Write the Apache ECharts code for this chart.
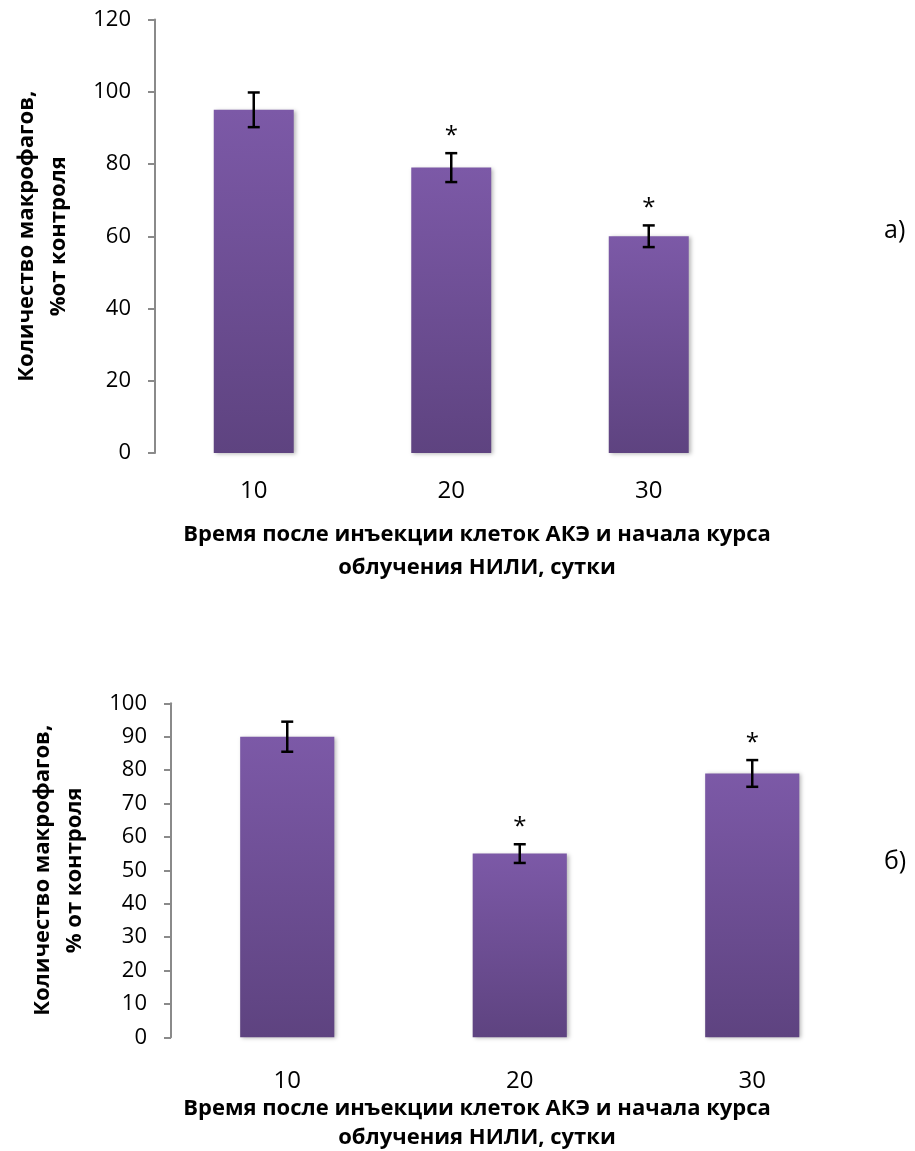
<!DOCTYPE html>
<html>
<head>
<meta charset="utf-8">
<script src="https://cdn.jsdelivr.net/npm/echarts@6/dist/echarts.min.js"></script>
<style>
  html, body { margin: 0; padding: 0; background: #fff; }
  #chart { width: 915px; height: 1151px; }
</style>
</head>
<body>
<div id="chart"></div>
<script>
// Days after tumour-cell injection and start of the irradiation course
const categories = ['10', '20', '30'];

// Panel а): macrophage count, % of control
const meansA = [95, 79, 60];
const errorsA = [4.8, 4, 3];
const significantA = [false, true, true];

// Panel б): macrophage count, % of control
const meansB = [90, 55, 79];
const errorsB = [4.5, 2.8, 4];
const significantB = [false, true, true];

// Value-axis ranges
const yRangeA = { min: 0, max: 120, interval: 20 };
const yRangeB = { min: 0, max: 100, interval: 10 };

const yTitleA = 'Количество макрофагов,\n%от контроля';
const yTitleB = 'Количество макрофагов,\n% от контроля';
const xTitleLine1 = 'Время после инъекции клеток АКЭ и начала курса';
const xTitleLine2 = 'облучения НИЛИ, сутки';

const FONT = '"Open Sans", "Noto Sans", sans-serif';

const barFill = {
  type: 'linear', x: 0, y: 0, x2: 0, y2: 1,
  colorStops: [
    { offset: 0, color: '#7C59A7' },
    { offset: 1, color: '#5E4380' }
  ]
};

function errorData(means, errors, sig) {
  return means.map((m, i) => [i, m - errors[i], m + errors[i], sig[i] ? 1 : 0]);
}

function renderErrorBar(params, api) {
  const lo = api.coord([api.value(0), api.value(1)]);
  const hi = api.coord([api.value(0), api.value(2)]);
  const cap = 6;
  const style = { stroke: '#000', lineWidth: 2.5 };
  const children = [
    { type: 'line', shape: { x1: hi[0], y1: hi[1], x2: lo[0], y2: lo[1] }, style },
    { type: 'line', shape: { x1: hi[0] - cap, y1: hi[1], x2: hi[0] + cap, y2: hi[1] }, style },
    { type: 'line', shape: { x1: lo[0] - cap, y1: lo[1], x2: lo[0] + cap, y2: lo[1] }, style }
  ];
  if (api.value(3)) {
    children.push({
      type: 'text',
      style: {
        text: '*', x: hi[0], y: hi[1] - 5,
        align: 'center', verticalAlign: 'bottom',
        font: '24px ' + FONT, fill: '#000'
      }
    });
  }
  return { type: 'group', children };
}

function valueAxis(gridIndex, range, title, titleSize) {
  return {
    type: 'value', gridIndex,
    min: range.min, max: range.max, interval: range.interval,
    axisLine: { show: true, lineStyle: { color: '#8A8A8A', width: 2 } },
    axisTick: { show: true, length: 7, lineStyle: { color: '#8A8A8A', width: 2 } },
    splitLine: { show: false },
    axisLabel: { fontFamily: FONT, fontSize: 22, color: '#000', margin: 24 },
    name: title,
    nameLocation: 'middle',
    nameRotate: 90,
    nameGap: 80,
    nameTextStyle: { fontFamily: FONT, fontSize: titleSize, fontWeight: 'bold', color: '#000', lineHeight: 32 }
  };
}

function categoryAxis(gridIndex, margin) {
  return {
    type: 'category', gridIndex, data: categories,
    axisLine: { show: false }, axisTick: { show: false },
    axisLabel: { fontFamily: FONT, fontSize: 24, color: '#000', margin }
  };
}

function titleLine(text, y) {
  return {
    type: 'text',
    style: { text, x: 477, y, align: 'center', verticalAlign: 'middle', font: 'bold 22px ' + FONT, fill: '#000' }
  };
}

const barStyle = {
  color: barFill,
  shadowColor: 'rgba(0,0,0,0.28)', shadowBlur: 4, shadowOffsetX: 2, shadowOffsetY: 1
};

const option = {
  backgroundColor: '#fff',
  animation: false,
  grid: [
    { left: 155, top: 19.5, width: 592.5, height: 433.5 },
    { left: 171, top: 703.3, width: 697.5, height: 334 }
  ],
  xAxis: [categoryAxis(0, 26), categoryAxis(1, 32)],
  yAxis: [valueAxis(0, yRangeA, yTitleA, 22), valueAxis(1, yRangeB, yTitleB, 22)],
  graphic: [
    titleLine(xTitleLine1, 535),
    titleLine(xTitleLine2, 568),
    titleLine(xTitleLine1, 1109),
    titleLine(xTitleLine2, 1138),
    { type: 'text', style: { text: 'а)', x: 884, y: 231, verticalAlign: 'middle', font: '25px ' + FONT, fill: '#000' } },
    { type: 'text', style: { text: 'б)', x: 884, y: 862, verticalAlign: 'middle', font: '25px ' + FONT, fill: '#000' } }
  ],
  series: [
    { type: 'bar', xAxisIndex: 0, yAxisIndex: 0, data: meansA, barWidth: '40.5%', itemStyle: barStyle },
    { type: 'custom', xAxisIndex: 0, yAxisIndex: 0, data: errorData(meansA, errorsA, significantA), renderItem: renderErrorBar, z: 10 },
    { type: 'bar', xAxisIndex: 1, yAxisIndex: 1, data: meansB, barWidth: '40.5%', itemStyle: barStyle },
    { type: 'custom', xAxisIndex: 1, yAxisIndex: 1, data: errorData(meansB, errorsB, significantB), renderItem: renderErrorBar, z: 10 }
  ]
};

const chart = echarts.init(document.getElementById('chart'), null, { renderer: 'canvas' });
chart.setOption(option);
</script>
</body>
</html>
